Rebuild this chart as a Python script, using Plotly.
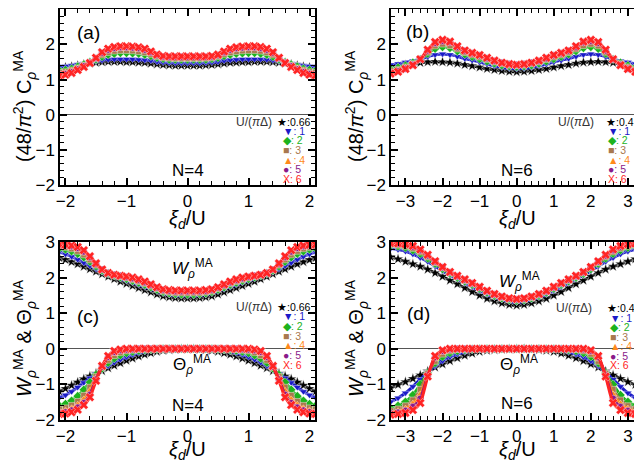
import plotly.graph_objects as go

# ---------------- data ----------------
X_N4 = [-2.1,-2.0,-1.9,-1.8,-1.7,-1.6,-1.5,-1.4,-1.3,-1.2,-1.1,-1.0,-0.9,-0.8,-0.7,-0.6,-0.5,-0.4,-0.3,-0.2,-0.1,0.0,
        0.1,0.2,0.3,0.4,0.5,0.6,0.7,0.8,0.9,1.0,1.1,1.2,1.3,1.4,1.5,1.6,1.7,1.8,1.9,2.0,2.1]
X_N6 = [-3.4,-3.2,-3.0,-2.8,-2.6,-2.4,-2.2,-2.0,-1.8,-1.6,-1.4,-1.2,-1.0,-0.8,-0.6,-0.4,-0.2,0.0,
        0.2,0.4,0.6,0.8,1.0,1.2,1.4,1.6,1.8,2.0,2.2,2.4,2.6,2.8,3.0,3.2,3.4]

U_N4 = ["0.66", "1", "2", "3", "4", "5", "6"]
U_N6 = ["0.4", "1", "2", "3", "4", "5", "6"]

# panel (a): (48/pi^2) C, N=4
C4_U066 = [1.34,1.35,1.37,1.40,1.43,1.46,1.48,1.50,1.51,1.51,1.51,1.50,1.50,1.49,1.48,1.46,1.44,1.42,1.41,1.40,1.40,1.40,
           1.40,1.40,1.41,1.42,1.44,1.46,1.48,1.49,1.50,1.50,1.51,1.51,1.51,1.50,1.48,1.46,1.43,1.40,1.37,1.35,1.34]
C4_U1 = [1.37,1.38,1.40,1.43,1.46,1.49,1.52,1.55,1.57,1.58,1.58,1.58,1.58,1.57,1.56,1.54,1.51,1.49,1.48,1.47,1.47,1.47,
         1.47,1.47,1.48,1.49,1.51,1.54,1.56,1.57,1.58,1.58,1.58,1.58,1.57,1.55,1.52,1.49,1.46,1.43,1.40,1.38,1.37]
C4_U2 = [1.25,1.27,1.31,1.37,1.43,1.50,1.57,1.65,1.71,1.74,1.76,1.76,1.75,1.74,1.71,1.67,1.62,1.59,1.57,1.57,1.57,1.57,
         1.57,1.57,1.57,1.59,1.62,1.67,1.71,1.74,1.75,1.76,1.76,1.74,1.71,1.65,1.57,1.50,1.43,1.37,1.31,1.27,1.25]
C4_U3 = [1.20,1.22,1.27,1.33,1.41,1.50,1.59,1.70,1.77,1.81,1.83,1.83,1.82,1.80,1.77,1.72,1.66,1.62,1.61,1.60,1.60,1.60,
         1.60,1.60,1.61,1.62,1.66,1.72,1.77,1.80,1.82,1.83,1.83,1.81,1.77,1.70,1.59,1.50,1.41,1.33,1.27,1.22,1.20]
C4_U4 = [1.17,1.19,1.24,1.31,1.39,1.49,1.60,1.73,1.81,1.86,1.88,1.88,1.87,1.85,1.81,1.75,1.68,1.64,1.63,1.63,1.63,1.63,
         1.63,1.63,1.63,1.64,1.68,1.75,1.81,1.85,1.87,1.88,1.88,1.86,1.81,1.73,1.60,1.49,1.39,1.31,1.24,1.19,1.17]
C4_U5 = [1.14,1.16,1.21,1.29,1.38,1.48,1.61,1.76,1.85,1.90,1.92,1.92,1.91,1.89,1.85,1.78,1.70,1.66,1.65,1.65,1.65,1.65,
         1.65,1.65,1.65,1.66,1.70,1.78,1.85,1.89,1.91,1.92,1.92,1.90,1.85,1.76,1.61,1.48,1.38,1.29,1.21,1.16,1.14]
C4_U6 = [1.12,1.14,1.19,1.27,1.36,1.47,1.62,1.78,1.88,1.93,1.95,1.95,1.94,1.92,1.88,1.80,1.71,1.67,1.66,1.66,1.66,1.66,
         1.66,1.66,1.66,1.67,1.71,1.80,1.88,1.92,1.94,1.95,1.95,1.93,1.88,1.78,1.62,1.47,1.36,1.27,1.19,1.14,1.12]

# panel (b): (48/pi^2) C, N=6
C6_U04 = [1.33,1.37,1.41,1.45,1.48,1.50,1.51,1.50,1.49,1.46,1.42,1.39,1.35,1.31,1.28,1.25,1.23,1.22,
          1.23,1.25,1.28,1.31,1.35,1.39,1.42,1.46,1.49,1.50,1.51,1.50,1.48,1.45,1.41,1.37,1.33]
C6_U1 = [1.42,1.45,1.49,1.53,1.58,1.65,1.71,1.73,1.71,1.66,1.60,1.55,1.50,1.44,1.39,1.35,1.32,1.31,
         1.32,1.35,1.39,1.44,1.50,1.55,1.60,1.66,1.71,1.73,1.71,1.65,1.58,1.53,1.49,1.45,1.42]
C6_U2 = [1.30,1.34,1.40,1.48,1.58,1.74,1.88,1.93,1.90,1.81,1.72,1.65,1.59,1.52,1.46,1.41,1.38,1.37,
         1.38,1.41,1.46,1.52,1.59,1.65,1.72,1.81,1.90,1.93,1.88,1.74,1.58,1.48,1.40,1.34,1.30]
C6_U3 = [1.25,1.29,1.36,1.45,1.58,1.78,1.96,2.01,1.97,1.87,1.77,1.70,1.64,1.57,1.50,1.45,1.41,1.40,
         1.41,1.45,1.50,1.57,1.64,1.70,1.77,1.87,1.97,2.01,1.96,1.78,1.58,1.45,1.36,1.29,1.25]
C6_U4 = [1.22,1.26,1.33,1.43,1.58,1.81,2.01,2.07,2.03,1.91,1.80,1.73,1.67,1.60,1.52,1.47,1.43,1.41,
         1.43,1.47,1.52,1.60,1.67,1.73,1.80,1.91,2.03,2.07,2.01,1.81,1.58,1.43,1.33,1.26,1.22]
C6_U5 = [1.19,1.24,1.31,1.42,1.58,1.83,2.04,2.10,2.06,1.93,1.82,1.75,1.69,1.61,1.53,1.48,1.44,1.42,
         1.44,1.48,1.53,1.61,1.69,1.75,1.82,1.93,2.06,2.10,2.04,1.83,1.58,1.42,1.31,1.24,1.19]
C6_U6 = [1.17,1.22,1.30,1.41,1.58,1.85,2.07,2.13,2.08,1.95,1.83,1.76,1.70,1.62,1.54,1.48,1.44,1.42,
         1.44,1.48,1.54,1.62,1.70,1.76,1.83,1.95,2.08,2.13,2.07,1.85,1.58,1.41,1.30,1.22,1.17]

# panel (c): W (upper) and Theta (lower), N=4
W4_U066 = [2.55,2.50,2.44,2.38,2.31,2.24,2.17,2.10,2.03,1.96,1.89,1.83,1.77,1.71,1.65,1.59,1.53,1.48,1.45,1.43,1.42,1.42,
           1.42,1.43,1.45,1.48,1.53,1.59,1.65,1.71,1.77,1.83,1.89,1.96,2.03,2.10,2.17,2.24,2.31,2.38,2.44,2.50,2.55]
W4_U1 = [2.72,2.66,2.59,2.51,2.42,2.33,2.24,2.16,2.09,2.03,1.97,1.91,1.86,1.80,1.74,1.68,1.62,1.56,1.52,1.50,1.49,1.49,
         1.49,1.50,1.52,1.56,1.62,1.68,1.74,1.80,1.86,1.91,1.97,2.03,2.09,2.16,2.24,2.33,2.42,2.51,2.59,2.66,2.72]
W4_U2 = [2.82,2.79,2.74,2.67,2.57,2.45,2.32,2.20,2.12,2.06,2.01,1.96,1.91,1.86,1.80,1.73,1.66,1.60,1.56,1.54,1.53,1.53,
         1.53,1.54,1.56,1.60,1.66,1.73,1.80,1.86,1.91,1.96,2.01,2.06,2.12,2.20,2.32,2.45,2.57,2.67,2.74,2.79,2.82]
W4_U3 = [2.87,2.85,2.81,2.74,2.64,2.50,2.35,2.22,2.13,2.07,2.03,1.99,1.94,1.89,1.83,1.76,1.69,1.62,1.59,1.57,1.57,1.57,
         1.57,1.57,1.59,1.62,1.69,1.76,1.83,1.89,1.94,1.99,2.03,2.07,2.13,2.22,2.35,2.50,2.64,2.74,2.81,2.85,2.87]
W4_U4 = [2.90,2.88,2.85,2.79,2.69,2.54,2.37,2.22,2.13,2.08,2.04,2.00,1.96,1.91,1.85,1.78,1.70,1.64,1.61,1.60,1.60,1.60,
         1.60,1.60,1.61,1.64,1.70,1.78,1.85,1.91,1.96,2.00,2.04,2.08,2.13,2.22,2.37,2.54,2.69,2.79,2.85,2.88,2.90]
W4_U5 = [2.92,2.91,2.88,2.83,2.73,2.57,2.39,2.23,2.13,2.08,2.05,2.02,1.98,1.93,1.87,1.80,1.72,1.66,1.63,1.62,1.62,1.62,
         1.62,1.62,1.63,1.66,1.72,1.80,1.87,1.93,1.98,2.02,2.05,2.08,2.13,2.23,2.39,2.57,2.73,2.83,2.88,2.91,2.92]
W4_U6 = [2.93,2.92,2.90,2.86,2.77,2.60,2.40,2.23,2.13,2.08,2.05,2.03,2.00,1.95,1.89,1.81,1.73,1.67,1.65,1.64,1.64,1.64,
         1.64,1.64,1.65,1.67,1.73,1.81,1.89,1.95,2.00,2.03,2.05,2.08,2.13,2.23,2.40,2.60,2.77,2.86,2.90,2.92,2.93]

T4_U066 = [-1.20,-1.12,-1.03,-0.94,-0.85,-0.77,-0.69,-0.62,-0.54,-0.47,-0.40,-0.33,-0.27,-0.21,-0.16,-0.12,-0.08,-0.05,-0.03,-0.02,-0.01,-0.01,
           -0.01,-0.02,-0.03,-0.05,-0.08,-0.12,-0.16,-0.21,-0.27,-0.33,-0.40,-0.47,-0.54,-0.62,-0.69,-0.77,-0.85,-0.94,-1.03,-1.12,-1.20]
T4_U1 = [-1.37,-1.30,-1.20,-1.08,-0.95,-0.82,-0.70,-0.59,-0.48,-0.38,-0.30,-0.23,-0.17,-0.12,-0.08,-0.05,-0.03,-0.02,-0.01,-0.01,0.00,0.00,
         0.00,-0.01,-0.01,-0.02,-0.03,-0.05,-0.08,-0.12,-0.17,-0.23,-0.30,-0.38,-0.48,-0.59,-0.70,-0.82,-0.95,-1.08,-1.20,-1.30,-1.37]
T4_U2 = [-1.60,-1.55,-1.46,-1.33,-1.15,-0.94,-0.73,-0.55,-0.39,-0.27,-0.18,-0.12,-0.08,-0.05,-0.03,-0.02,-0.01,0.00,0.00,0.00,0.00,0.00,
         0.00,0.00,0.00,0.00,-0.01,-0.02,-0.03,-0.05,-0.08,-0.12,-0.18,-0.27,-0.39,-0.55,-0.73,-0.94,-1.15,-1.33,-1.46,-1.55,-1.60]
T4_U3 = [-1.70,-1.66,-1.59,-1.48,-1.31,-1.08,-0.78,-0.52,-0.32,-0.19,-0.11,-0.06,-0.04,-0.02,-0.01,0.00,0.00,0.00,0.00,0.00,0.00,0.00,
         0.00,0.00,0.00,0.00,0.00,0.00,-0.01,-0.02,-0.04,-0.06,-0.11,-0.19,-0.32,-0.52,-0.78,-1.08,-1.31,-1.48,-1.59,-1.66,-1.70]
T4_U4 = [-1.76,-1.73,-1.67,-1.57,-1.42,-1.18,-0.82,-0.51,-0.27,-0.14,-0.07,-0.04,-0.02,-0.01,0.00,0.00,0.00,0.00,0.00,0.00,0.00,0.00,
         0.00,0.00,0.00,0.00,0.00,0.00,0.00,-0.01,-0.02,-0.04,-0.07,-0.14,-0.27,-0.51,-0.82,-1.18,-1.42,-1.57,-1.67,-1.73,-1.76]
T4_U5 = [-1.80,-1.78,-1.73,-1.65,-1.52,-1.29,-0.86,-0.50,-0.23,-0.09,-0.04,-0.02,-0.01,0.00,0.00,0.00,0.00,0.00,0.00,0.00,0.00,0.00,
         0.00,0.00,0.00,0.00,0.00,0.00,0.00,0.00,-0.01,-0.02,-0.04,-0.09,-0.23,-0.50,-0.86,-1.29,-1.52,-1.65,-1.73,-1.78,-1.80]
T4_U6 = [-1.83,-1.82,-1.78,-1.71,-1.58,-1.36,-0.90,-0.48,-0.20,-0.06,-0.02,0.00,0.00,0.00,0.00,0.00,0.00,0.00,0.00,0.00,0.00,0.00,
         0.00,0.00,0.00,0.00,0.00,0.00,0.00,0.00,0.00,0.00,-0.02,-0.06,-0.20,-0.48,-0.90,-1.36,-1.58,-1.71,-1.78,-1.82,-1.83]

# panel (d): W (upper) and Theta (lower), N=6
W6_U04 = [2.58,2.52,2.45,2.38,2.31,2.23,2.13,2.03,1.92,1.82,1.71,1.60,1.50,1.41,1.34,1.28,1.24,1.22,
          1.24,1.28,1.34,1.41,1.50,1.60,1.71,1.82,1.92,2.03,2.13,2.23,2.31,2.38,2.45,2.52,2.58]
W6_U1 = [2.82,2.79,2.74,2.66,2.56,2.45,2.32,2.19,2.07,1.96,1.85,1.74,1.63,1.53,1.45,1.38,1.33,1.31,
         1.33,1.38,1.45,1.53,1.63,1.74,1.85,1.96,2.07,2.19,2.32,2.45,2.56,2.66,2.74,2.79,2.82]
W6_U2 = [2.90,2.88,2.84,2.77,2.67,2.54,2.39,2.24,2.11,2.00,1.90,1.80,1.69,1.58,1.49,1.42,1.37,1.35,
         1.37,1.42,1.49,1.58,1.69,1.80,1.90,2.00,2.11,2.24,2.39,2.54,2.67,2.77,2.84,2.88,2.90]
W6_U3 = [2.93,2.91,2.88,2.82,2.72,2.58,2.42,2.27,2.13,2.02,1.92,1.82,1.71,1.60,1.51,1.44,1.39,1.37,
         1.39,1.44,1.51,1.60,1.71,1.82,1.92,2.02,2.13,2.27,2.42,2.58,2.72,2.82,2.88,2.91,2.93]
W6_U4 = [2.95,2.93,2.91,2.85,2.75,2.61,2.44,2.28,2.14,2.03,1.93,1.83,1.72,1.61,1.52,1.45,1.40,1.38,
         1.40,1.45,1.52,1.61,1.72,1.83,1.93,2.03,2.14,2.28,2.44,2.61,2.75,2.85,2.91,2.93,2.95]
W6_U5 = [2.96,2.95,2.93,2.87,2.77,2.62,2.45,2.29,2.15,2.04,1.94,1.84,1.73,1.62,1.53,1.46,1.41,1.39,
         1.41,1.46,1.53,1.62,1.73,1.84,1.94,2.04,2.15,2.29,2.45,2.62,2.77,2.87,2.93,2.95,2.96]
W6_U6 = [2.97,2.96,2.94,2.89,2.79,2.64,2.46,2.30,2.16,2.05,1.95,1.85,1.74,1.63,1.54,1.47,1.42,1.40,
         1.42,1.47,1.54,1.63,1.74,1.85,1.95,2.05,2.16,2.30,2.46,2.64,2.79,2.89,2.94,2.96,2.97]

T6_U04 = [-1.10,-1.01,-0.93,-0.84,-0.74,-0.63,-0.52,-0.43,-0.34,-0.26,-0.19,-0.13,-0.08,-0.05,-0.03,-0.02,-0.01,-0.01,
          -0.01,-0.02,-0.03,-0.05,-0.08,-0.13,-0.19,-0.26,-0.34,-0.43,-0.52,-0.63,-0.74,-0.84,-0.93,-1.01,-1.10]
T6_U1 = [-1.49,-1.38,-1.24,-1.06,-0.86,-0.66,-0.48,-0.34,-0.23,-0.15,-0.09,-0.05,-0.03,-0.02,-0.01,0.00,0.00,0.00,
         0.00,0.00,-0.01,-0.02,-0.03,-0.05,-0.09,-0.15,-0.23,-0.34,-0.48,-0.66,-0.86,-1.06,-1.24,-1.38,-1.49]
T6_U2 = [-1.67,-1.60,-1.49,-1.30,-1.00,-0.68,-0.40,-0.22,-0.12,-0.06,-0.03,-0.01,0.00,0.00,0.00,0.00,0.00,0.00,
         0.00,0.00,0.00,0.00,0.00,-0.01,-0.03,-0.06,-0.12,-0.22,-0.40,-0.68,-1.00,-1.30,-1.49,-1.60,-1.67]
T6_U3 = [-1.74,-1.69,-1.60,-1.44,-1.14,-0.69,-0.35,-0.15,-0.06,-0.02,-0.01,0.00,0.00,0.00,0.00,0.00,0.00,0.00,
         0.00,0.00,0.00,0.00,0.00,0.00,-0.01,-0.02,-0.06,-0.15,-0.35,-0.69,-1.14,-1.44,-1.60,-1.69,-1.74]
T6_U4 = [-1.79,-1.75,-1.68,-1.54,-1.28,-0.72,-0.29,-0.10,-0.03,-0.01,0.00,0.00,0.00,0.00,0.00,0.00,0.00,0.00,
         0.00,0.00,0.00,0.00,0.00,0.00,0.00,-0.01,-0.03,-0.10,-0.29,-0.72,-1.28,-1.54,-1.68,-1.75,-1.79]
T6_U5 = [-1.82,-1.79,-1.74,-1.63,-1.40,-0.75,-0.24,-0.06,-0.01,0.00,0.00,0.00,0.00,0.00,0.00,0.00,0.00,0.00,
         0.00,0.00,0.00,0.00,0.00,0.00,0.00,0.00,-0.01,-0.06,-0.24,-0.75,-1.40,-1.63,-1.74,-1.79,-1.82]
T6_U6 = [-1.85,-1.83,-1.80,-1.72,-1.52,-0.78,-0.20,-0.04,0.00,0.00,0.00,0.00,0.00,0.00,0.00,0.00,0.00,0.00,
         0.00,0.00,0.00,0.00,0.00,0.00,0.00,0.00,0.00,-0.04,-0.20,-0.78,-1.52,-1.72,-1.80,-1.83,-1.85]

C4_SERIES = [C4_U066, C4_U1, C4_U2, C4_U3, C4_U4, C4_U5, C4_U6]
C6_SERIES = [C6_U04, C6_U1, C6_U2, C6_U3, C6_U4, C6_U5, C6_U6]
W4_SERIES = [W4_U066, W4_U1, W4_U2, W4_U3, W4_U4, W4_U5, W4_U6]
T4_SERIES = [T4_U066, T4_U1, T4_U2, T4_U3, T4_U4, T4_U5, T4_U6]
W6_SERIES = [W6_U04, W6_U1, W6_U2, W6_U3, W6_U4, W6_U5, W6_U6]
T6_SERIES = [T6_U04, T6_U1, T6_U2, T6_U3, T6_U4, T6_U5, T6_U6]

# ---------------- style ----------------
COLORS = ["#000000", "#1a1ac8", "#1db31d", "#a8784e", "#ff8a1a", "#8a1a8a", "#ff2424"]
SYMBOLS = ["star", "triangle-down", "diamond", "square", "triangle-up", "circle", "x"]
MSIZES = [8, 7, 7, 6, 7, 7, 8]
GLYPHS = ["★", "▼", "◆", "■", "▲", "●", "X"]
FONT = "Liberation Sans, Arial, sans-serif"

# the page body adds an 8 px margin, so the figure is drawn 8 px in
OFF = 8
FIG_W, FIG_H = 642 - OFF, 471 - OFF

def px(x):
    return (x - OFF) / FIG_W

def py(y):
    return 1 - (y - OFF) / FIG_H

fig = go.Figure()

def add_series(xs, series, xa, ya):
    for ys, col, sym, ms in zip(series, COLORS, SYMBOLS, MSIZES):
        fig.add_trace(go.Scatter(
            x=xs, y=ys, xaxis=xa, yaxis=ya, mode="lines+markers",
            line=dict(color=col, width=3, shape="spline", smoothing=0.6),
            marker=dict(symbol=sym, size=ms, color=col,
                        line=dict(color="white", width=0.4)),
            showlegend=False, hoverinfo="skip"))

add_series(X_N4, C4_SERIES, "x", "y")
add_series(X_N6, C6_SERIES, "x2", "y2")
add_series(X_N4, W4_SERIES, "x3", "y3")
add_series(X_N4, T4_SERIES, "x3", "y3")
add_series(X_N6, W6_SERIES, "x4", "y4")
add_series(X_N6, T6_SERIES, "x4", "y4")

TICKCOMMON = dict(showgrid=False, showline=True, linecolor="black", linewidth=1.5,
                  mirror="allticks", ticks="inside", ticklen=7, tickwidth=1.5,
                  tickcolor="black", tickmode="linear", dtick=1, tick0=0,
                  minor=dict(ticks="inside", ticklen=4, dtick=0.2, tick0=0,
                             tickwidth=1.2, tickcolor="black", showgrid=False),
                  tickfont=dict(family=FONT, size=17, color="black"))

def xaxis(domain, rng, anchor):
    d = dict(domain=domain, range=rng, anchor=anchor, zeroline=False)
    d.update(TICKCOMMON)
    return d

def yaxis(domain, anchor):
    d = dict(domain=domain, range=[-2, 3], anchor=anchor,
             zeroline=True, zerolinecolor="#555555", zerolinewidth=1.2)
    d.update(TICKCOMMON)
    return d

XL = [px(60), px(315)]
XR = [px(391), 1.0]
YT = [py(185), py(9.3)]
YB = [py(420), py(242)]
R4 = [-2.09, 2.09]
R6 = [-3.39, 3.38]

fig.update_layout(
    template="none",
    width=FIG_W, height=FIG_H, margin=dict(l=0, r=0, t=0, b=0),
    paper_bgcolor="white", plot_bgcolor="white",
    xaxis=xaxis(XL, R4, "y"), yaxis=yaxis(YT, "x"),
    xaxis2=xaxis(XR, R6, "y2"), yaxis2=yaxis(YT, "x2"),
    xaxis3=xaxis(XL, R4, "y3"), yaxis3=yaxis(YB, "x3"),
    xaxis4=xaxis(XR, R6, "y4"), yaxis4=yaxis(YB, "x4"),
)

ann = []

def text(x, y, t, size=16, color="black", xanchor="center", angle=0):
    ann.append(dict(x=px(x), y=py(y), xref="paper", yref="paper", text=t,
                    showarrow=False, xanchor=xanchor, yanchor="middle",
                    textangle=angle, font=dict(family=FONT, size=size, color=color)))

# axis titles
XT = "<i>ξ</i><sub><i>d</i></sub>/U"
text(187, 219, XT, size=20)
text(517, 219, XT, size=20)
text(187, 450, XT, size=20)
text(517, 450, XT, size=20)
YT_C = "(48/<i>π</i><sup>2</sup>) C<sub><i>ρ</i></sub><sup>MA</sup>"
YT_W = "<i>W</i><sub><i>ρ</i></sub><sup>MA</sup> &amp; Θ<sub><i>ρ</i></sub><sup>MA</sup>"
text(24, 106, YT_C, size=20, angle=-90)
text(356, 106, YT_C, size=20, angle=-90)
text(24, 338, YT_W, size=20, angle=-90)
text(356, 338, YT_W, size=20, angle=-90)

# panel labels
text(88, 33, "(a)", size=19)
text(417, 32, "(b)", size=19)
text(88, 316, "(c)", size=19)
text(418, 313, "(d)", size=19)

# N labels
text(188, 170, "N=4", size=17)
text(517, 170, "N=6", size=17)
text(188, 405, "N=4", size=17)
text(517, 403, "N=6", size=17)

# W / Theta labels
WL = "<i>W</i><sub><i>ρ</i></sub><sup>MA</sup>"
TL = "Θ<sub><i>ρ</i></sub><sup>MA</sup>"
text(192, 268, WL, size=17)
text(192, 364, TL, size=17)
text(519, 281, WL, size=17)
text(519, 364, TL, size=17)

# legends
def legend(ulabels, x_u, x_star, x_rows, y0, dy):
    text(x_u, y0, "U/(<i>π</i>Δ)", size=12, color="#333333", xanchor="right")
    for i, (lab, col, g) in enumerate(zip(ulabels, COLORS, GLYPHS)):
        if i == 0:
            text(x_star, y0, g + ":" + lab, size=10.5, color=col, xanchor="left")
        else:
            text(x_rows, y0 + i * dy, g + ": " + lab, size=10.5, color=col, xanchor="left")

legend(U_N4, 274, 275, 281, 121.5, 9.5)
legend(U_N6, 596, 604, 606, 121.5, 9.5)
legend(U_N4, 274, 275, 281, 306.5, 9.7)
legend(U_N6, 594, 605, 608, 308, 9.5)

fig.update_layout(annotations=ann)
fig.write_html("out.html")
